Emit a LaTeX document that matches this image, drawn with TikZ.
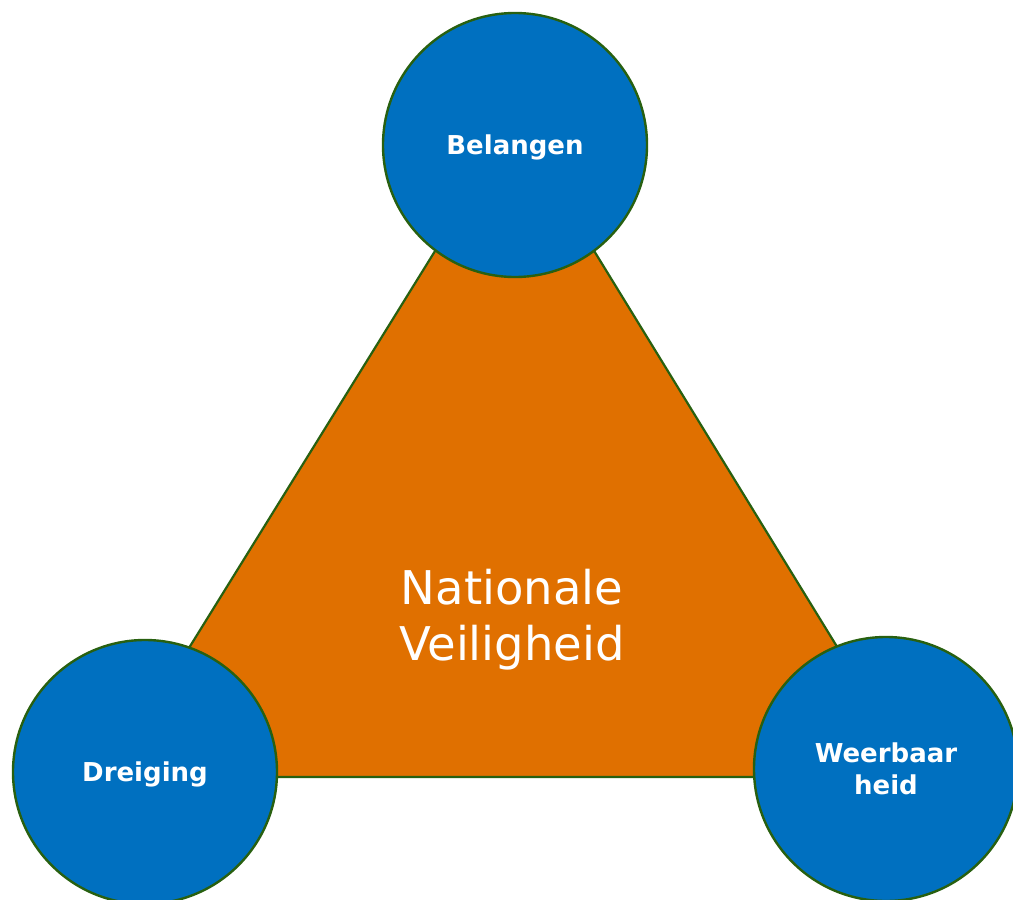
\documentclass[tikz,border=0pt]{standalone}
\usepackage{fontspec}
\setmainfont{DejaVu Sans}
\usepackage{tikz}
\definecolor{nvB}{RGB}{0,112,192}
\definecolor{nvO}{RGB}{224,112,0}
\definecolor{nvG}{RGB}{40,96,16}
\tikzset{pillar/.style={circle, draw=nvG, line width=2.4pt, fill=nvB, minimum size=264pt,
  inner sep=0pt, text=white, font=\bfseries\fontsize{26}{32}\selectfont, align=center, text depth=0pt}}

\begin{document}
\begin{tikzpicture}[x=1pt, y=-1pt]
\useasboundingbox (0,0) rectangle (1013,900);
% the triangle behind the three circles
\coordinate (tL) at (109,777);
\coordinate (tR) at (917,777);
\coordinate (tT) at (515,122);
\draw[nvG, line width=2.2pt, fill=nvO] (tL) -- (tR) -- (tT) -- cycle;
\node[text=white, font=\fontsize{46.5}{56}\selectfont, align=center, inner sep=0pt] (nv) at (512,620) {Nationale\\Veiligheid};
% one circle on each corner
\node[pillar] (bel) at (515,145) {Belangen};
\node[pillar] (dre) at (145,772) {Dreiging};
\node[pillar] (weer) at (886,769) {Weerbaar\\heid};
\end{tikzpicture}
\end{document}
